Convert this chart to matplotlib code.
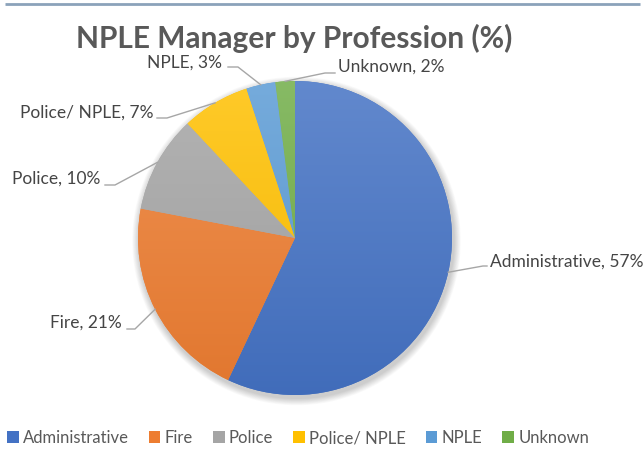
import numpy as np
import matplotlib
matplotlib.use("Agg")
import matplotlib.pyplot as plt
from matplotlib.colors import to_rgb
from matplotlib.patches import Circle

# ─── DATOS ───────────────────────────────────────────────────────────────────
categorias = ["Administrative", "Fire", "Police", "Police/ NPLE", "NPLE", "Unknown"]
valores    = [57, 21, 10, 7, 3, 2]
titulo     = "NPLE Manager by Profession (%)"

colores = ["#4472C4", "#ED7D31", "#A5A5A5", "#FFC000", "#5B9BD5", "#70AD47"]

# ─── LAYOUT (pixeles, y desde arriba) ────────────────────────────────────────
W, H = 643, 450
CX, CY_TOP, R = 295, 238, 157
# (x texto, y texto, alineacion, x codo, y codo, x fin linea)
etiquetas = [
    (490, 262, "left",  483, 266, 487),
    (122, 323, "right", 135, 329, 127),
    (100, 179, "right", 115, 185, 105),
    (153, 113, "right", 167, 118, 157),
    (222,  63, "right", 238,  67, 228),
    (338,  67, "left",  325,  73, 335),
]

def Y(y):
    return H - y

plt.rcParams['font.family'] = ['Lato', 'DejaVu Sans']

fig = plt.figure(figsize=(W / 100, H / 100), dpi=100)
ax = fig.add_axes([0, 0, 1, 1])

CY = Y(CY_TOP)

# sombra suave
for k in range(10):
    ax.add_patch(Circle((CX + 1.5, CY - 3), R + 1 + k * 0.7, color="black",
                        alpha=0.018, lw=0, zorder=0))

wedges, _ = ax.pie(valores, colors=colores, startangle=90, counterclock=False,
                   center=(CX, CY), radius=R,
                   wedgeprops=dict(linewidth=0, zorder=2))

# degradado vertical (mas claro arriba)
t = np.linspace(0, 1, 256)[:, None]
for w, c in zip(wedges, colores):
    base = np.array(to_rgb(c))
    oscuro = base * 0.95
    claro = base + (1 - base) * 0.16
    grad = oscuro[None, :] * (1 - t) + claro[None, :] * t
    img = np.concatenate([grad[:, None, :], np.ones((256, 1, 1))], axis=2)
    im = ax.imshow(img, extent=[CX - R, CX + R, CY - R, CY + R],
                   origin="lower", aspect="auto", zorder=3, interpolation="bilinear")
    im.set_clip_path(w)

# etiquetas con lineas guia
total = sum(valores)
ang = 90.0
for v, nombre, (tx, ty, ha, ex, ey, lx) in zip(valores, categorias, etiquetas):
    ext = 360.0 * v / total
    mid = np.deg2rad(ang - ext / 2)
    ang -= ext
    px, py = CX + R * np.cos(mid), CY + R * np.sin(mid)
    ax.plot([px, ex, lx], [py, Y(ey), Y(ey)], color="#A6A6A6", lw=1, zorder=4)
    ax.text(tx, Y(ty), f"{nombre}, {v}%", ha=ha, va="center",
            fontsize=12.5, color="#454545", zorder=5)

# titulo
ax.text(294, Y(38), titulo, ha="center", va="center", fontsize=21.5,
        fontweight="bold", color="#595959")

# linea superior
ax.plot([5, 640], [Y(4), Y(4)], color="#8BA2BA", lw=2, solid_capstyle="butt")

leg = ax.legend(wedges, categorias, loc="center left", ncol=6,
                bbox_to_anchor=(7 / W, 1 - 438 / H), borderaxespad=0, borderpad=0,
                frameon=False, fontsize=12, handlelength=0.7, handleheight=0.7,
                handletextpad=0.25, columnspacing=1.2)
for txt in leg.get_texts():
    txt.set_color("#595959")

ax.set_xlim(0, W)
ax.set_ylim(0, H)
ax.set_aspect("auto")
ax.axis("off")

fig.savefig("out.png", dpi=100)
